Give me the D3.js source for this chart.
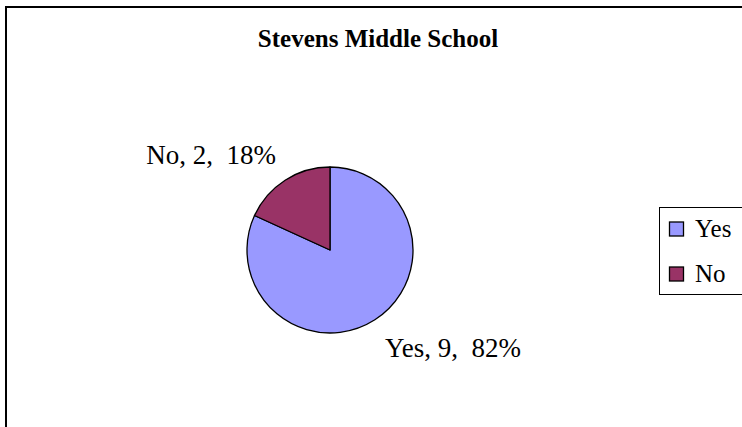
<!DOCTYPE html>
<html>
<head>
<meta charset="utf-8">
<script src="https://cdn.jsdelivr.net/npm/d3@7"></script>
<style>
  html, body { margin: 0; padding: 0; background: #fff; }
  svg { display: block; }
</style>
</head>
<body>
<svg id="chart" width="742" height="427"></svg>
<script>
// Survey answers for Stevens Middle School
const categories = ["Yes", "No"];
const counts = [9, 2];
const colors = ["#9999FF", "#993366"];
const title = "Stevens Middle School";

const FONT = "Liberation Serif";
const svg = d3.select("#chart");
const W = 742, H = 427;

// chart frame (runs off the right and bottom edges)
svg.append("rect")
  .attr("x", 6).attr("y", 7)
  .attr("width", W + 20).attr("height", H + 20)
  .attr("fill", "#fff")
  .attr("stroke", "#000")
  .attr("stroke-width", 2);

svg.append("text")
  .attr("x", 378).attr("y", 47)
  .attr("text-anchor", "middle")
  .attr("font-family", FONT)
  .attr("font-weight", "bold")
  .attr("font-size", 25)
  .text(title);

const cx = 330, cy = 250, r = 83;
const total = d3.sum(counts);
const data = categories.map((c, i) => ({ cat: c, value: counts[i], color: colors[i] }));

const pie = d3.pie().sort(null).value(d => d.value);
const arcs = pie(data);
const arc = d3.arc().innerRadius(0).outerRadius(r);
const labelArc = d3.arc().innerRadius(100).outerRadius(100);

const g = svg.append("g").attr("transform", `translate(${cx},${cy})`);

g.selectAll("path.slice")
  .data(arcs)
  .join("path")
  .attr("class", "slice")
  .attr("d", arc)
  .attr("fill", d => d.data.color)
  .attr("stroke", "#000")
  .attr("stroke-width", 1.3)
  .attr("stroke-linejoin", "round");

// data labels: category, count, share
const pct = d3.format(".0%");
g.selectAll("text.lbl")
  .data(arcs)
  .join("text")
  .attr("class", "lbl")
  .attr("font-family", FONT)
  .attr("font-size", 27)
  .style("white-space", "pre")
  .each(function(d) {
    const [x, y] = labelArc.centroid(d);
    const mid = (d.startAngle + d.endAngle) / 2;
    const right = Math.sin(mid) > 0;
    const below = -Math.cos(mid) > 0;
    d3.select(this)
      .attr("x", x + (right ? 1 : 0))
      .attr("y", below ? y + 23 : y - 2)
      .attr("text-anchor", right ? "start" : "end");
  })
  .text(d => `${d.data.cat}, ${d.data.value},  ${pct(d.data.value / total)}`);

// legend box
const legend = svg.append("g");
legend.append("rect")
  .attr("x", 659.5).attr("y", 207.5)
  .attr("width", 120).attr("height", 87)
  .attr("fill", "#fff")
  .attr("stroke", "#000")
  .attr("stroke-width", 1);

const ly = d3.scaleBand().domain(categories).range([206.5, 296.5]);
const items = legend.selectAll("g.item")
  .data(data)
  .join("g")
  .attr("class", "item")
  .attr("transform", d => `translate(0,${ly(d.cat) + ly.bandwidth() / 2})`);

items.append("rect")
  .attr("x", 669.5).attr("y", -7)
  .attr("width", 14).attr("height", 14)
  .attr("fill", d => d.color)
  .attr("stroke", "#000")
  .attr("stroke-width", 1.3);

items.append("text")
  .attr("x", 695).attr("y", 8)
  .attr("font-family", FONT)
  .attr("font-size", 25)
  .text(d => d.cat);
</script>
</body>
</html>
